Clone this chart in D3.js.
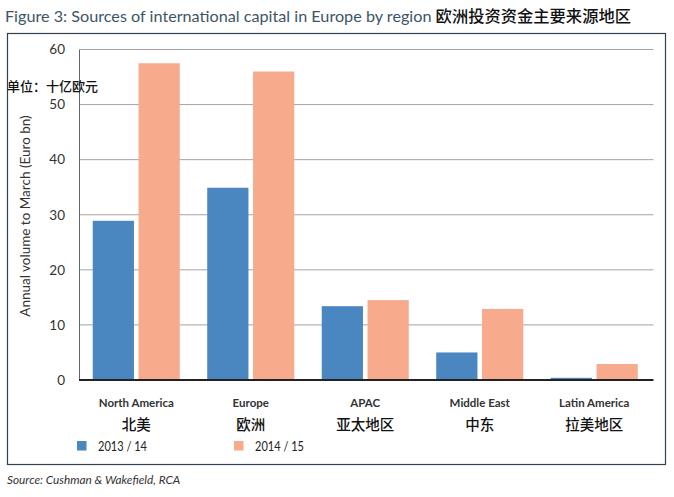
<!DOCTYPE html>
<html><head><meta charset="utf-8">
<script src="https://cdn.jsdelivr.net/npm/d3@7"></script>
<style>
body{margin:0;background:#fff;}
svg{display:block;}
</style></head>
<body><svg id="c" width="674" height="497"></svg>
<script>
const categories = ["North America","Europe","APAC","Middle East","Latin America"];
const categoriesZh = ["北美","欧洲","亚太地区","中东","拉美地区"];
const seriesNames = ["2013 / 14","2014 / 15"];
const values2013 = [28.9, 34.9, 13.4, 5.0, 0.4];
const values2014 = [57.5, 56.0, 14.5, 12.9, 2.9];
const yTicks = [0,10,20,30,40,50,60];
const colors = ["#4a86bf","#f7aa8c"];

(function(){
const svg = d3.select("#c");
const font = "Lato, 'Open Sans', sans-serif";
const cjk = "'Noto Sans CJK SC', sans-serif";

// title
const t = svg.append("text").attr("x",5).attr("y",22).attr("font-family",font).attr("font-size",16.2).attr("fill","#3d5566");
t.append("tspan").text("Figure 3: Sources of international capital in Europe by region ");
t.append("tspan").attr("font-family",cjk).attr("fill","#111").attr("font-weight",500).attr("font-size",16.3).text("欧洲投资资金主要来源地区");

// frame
svg.append("rect").attr("x",7.5).attr("y",33.5).attr("width",658).attr("height",431).attr("fill","none").attr("stroke","#33414f").attr("stroke-width",1.2);

const pl=79, pr=651.5, pt=49.5, pb=380;
const x = d3.scaleBand().domain(categories).range([pl,pr]).paddingInner(0.24).paddingOuter(0.12);
const xs = d3.scaleBand().domain([0,1]).range([0,x.bandwidth()]).paddingInner(0.1);
const y = d3.scaleLinear().domain([0,60]).range([pb,pt]);

// gridlines
svg.append("g").selectAll("line").data(yTicks.filter(d=>d>0)).join("line")
  .attr("x1",pl).attr("x2",pr+2).attr("y1",d=>y(d)).attr("y2",d=>y(d))
  .attr("stroke","#a3a3a3").attr("stroke-width",1);

// y axis
const ya = svg.append("g").attr("transform",`translate(${pl},0)`).call(d3.axisLeft(y).tickValues(yTicks).tickSize(0).tickPadding(14));
ya.select(".domain").attr("stroke","#666").attr("stroke-width",1);
ya.selectAll("text").attr("font-family",font).attr("font-size",13.5).attr("fill","#333");

// bars
const data = categories.map((c,i)=>({c, v:[values2013[i],values2014[i]]}));
const g = svg.append("g");
data.forEach(d=>{
  d.v.forEach((v,j)=>{
    g.append("rect").attr("x",x(d.c)+xs(j)).attr("width",xs.bandwidth())
      .attr("y",y(v)).attr("height",y(0)-y(v)).attr("fill",colors[j]);
  });
});

// baseline
svg.append("line").attr("x1",pl).attr("x2",pr+2).attr("y1",pb).attr("y2",pb).attr("stroke","#222").attr("stroke-width",2);

// x labels
const xl = svg.append("g");
categories.forEach((c,i)=>{
  const cx = x(c)+x.bandwidth()/2;
  xl.append("text").attr("x",cx).attr("y",407).attr("text-anchor","middle").attr("font-family",font).attr("font-weight",700).attr("font-size",11.5).attr("fill","#333").text(c);
  xl.append("text").attr("x",cx).attr("y",430).attr("text-anchor","middle").attr("font-family",cjk).attr("font-weight",500).attr("font-size",14.5).attr("fill","#111").text(categoriesZh[i]);
});

// y axis title
svg.append("text").attr("transform","translate(30,216) rotate(-90)").attr("text-anchor","middle")
  .attr("font-family",font).attr("font-size",13.5).attr("fill","#333").text("Annual volume to March (Euro bn)");

// unit label
svg.append("text").attr("x",7).attr("y",91).attr("font-family",cjk).attr("font-size",13).attr("font-weight",500).attr("fill","#111").text("单位：十亿欧元");

// legend
const lx=[77,234];
seriesNames.forEach((s,i)=>{
  svg.append("rect").attr("x",lx[i]).attr("y",441).attr("width",9.5).attr("height",9.5).attr("fill",colors[i]);
  svg.append("text").attr("x",lx[i]+21).attr("y",451).attr("font-family",font).attr("font-size",14)
    .attr("textLength",49).attr("lengthAdjust","spacingAndGlyphs").attr("fill","#222").text(s);
});

// source
svg.append("text").attr("x",7).attr("y",484).attr("font-family",font).attr("font-style","italic").attr("font-size",11.8).attr("fill","#333").text("Source: Cushman & Wakefield, RCA");
})();
</script></body></html>
